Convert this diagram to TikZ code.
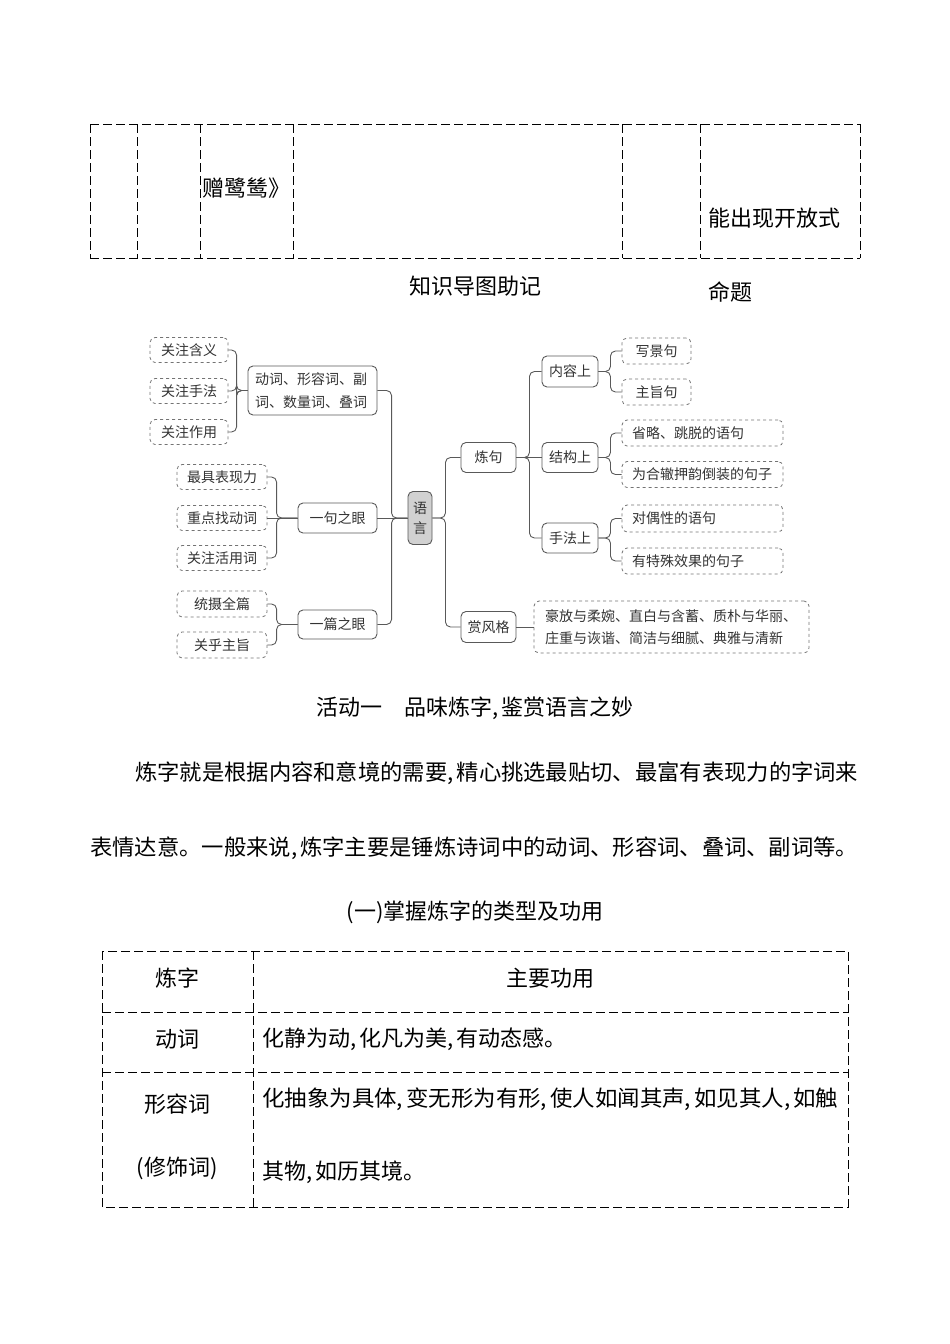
\documentclass[tikz,border=0pt]{standalone}
\usepackage{fontspec}
\setmainfont{Noto Sans CJK SC}
\newcommand\cma{,\kern3pt}
\begin{document}
\begin{tikzpicture}[x=1pt,y=-1pt,
  txt/.style={font=\fontsize{22}{26}\selectfont,inner sep=0pt},
  cell/.style={line width=.9pt,dash pattern=on 9pt off 4pt},
  mm/.style={font=\fontsize{14}{22}\selectfont,text=black!80,rounded corners=5pt,inner sep=0pt,align=center},
  topic/.style={mm,draw=black!65,line width=.9pt},
  leaf/.style={mm,draw=black!55,dashed,line width=.8pt},
  root/.style={topic,fill=black!18,font=\fontsize{14}{20}\selectfont},
  link/.style={draw=black!65,line width=.9pt,rounded corners=5pt}]
\useasboundingbox (0,0) rectangle (950,1344);
% top table
\draw[cell] (90,124) -- (860,124);
\draw[cell] (90,258) -- (860,258);
\foreach \x in {90,137,200,293,622,700,860}
  \draw[cell] (\x,124) -- (\x,258);
\node[txt,anchor=west] (poem) at (202,188) {赠鹭鸶》};
\node[txt,anchor=west] (open) at (708,218) {能出现开放式};
\node[txt,anchor=west] (mingti) at (708,292) {命题};
\node[txt] (title) at (475,286) {知识导图助记};
% mind map
\node[root,minimum width=24pt,minimum height=53pt] (yuyan) at (420,518) {语\\言};
\node[topic,minimum width=129pt,minimum height=49pt,text width=115pt,align=left,font=\fontsize{14}{23}\selectfont] (ci) at (312.5,390.5) {动词、形容词、副\\词、数量词、叠词};
\node[leaf,minimum width=78pt,minimum height=25pt] (hanyi) at (189,350) {关注含义};
\node[leaf,minimum width=78pt,minimum height=25pt] (shoufa1) at (189,391) {关注手法};
\node[leaf,minimum width=78pt,minimum height=25pt] (zuoyong) at (189,432) {关注作用};
\node[topic,minimum width=79pt,minimum height=30pt] (yiju) at (337.5,518) {一句之眼};
\node[topic,minimum width=79pt,minimum height=29pt] (yipian) at (337.5,624.5) {一篇之眼};
\node[leaf,minimum width=90pt,minimum height=25pt] (biaoxian) at (222,477) {最具表现力};
\node[leaf,minimum width=90pt,minimum height=25pt] (dongci) at (222,518) {重点找动词};
\node[leaf,minimum width=90pt,minimum height=25pt] (huoyong) at (222,558) {关注活用词};
\node[leaf,minimum width=90pt,minimum height=26pt] (quanpian) at (222,604) {统摄全篇};
\node[leaf,minimum width=90pt,minimum height=26pt] (zhuzhi1) at (222,645) {关乎主旨};
\node[topic,minimum width=55pt,minimum height=30pt] (lianju) at (488.5,457.5) {炼句};
\node[topic,minimum width=55pt,minimum height=31pt] (fengge) at (488.5,627) {赏风格};
\node[topic,minimum width=56pt,minimum height=31pt] (neirong) at (570,371.5) {内容上};
\node[topic,minimum width=56pt,minimum height=30pt] (jiegou) at (570,457.5) {结构上};
\node[topic,minimum width=56pt,minimum height=30pt] (shoufa2) at (570,538) {手法上};
\node[leaf,minimum width=69pt,minimum height=26pt] (xiejing) at (656.5,351) {写景句};
\node[leaf,minimum width=69pt,minimum height=26pt] (zhuzhi2) at (656.5,392) {主旨句};
\node[leaf,minimum width=161pt,minimum height=26pt,text width=141pt,align=left] (shenglue) at (702.5,433) {省略、跳脱的语句};
\node[leaf,minimum width=161pt,minimum height=26pt,text width=141pt,align=left] (daozhuang) at (702.5,474.5) {为合辙押韵倒装的句子};
\node[leaf,minimum width=161pt,minimum height=27pt,text width=141pt,align=left] (duiou) at (702.5,518.5) {对偶性的语句};
\node[leaf,minimum width=161pt,minimum height=26pt,text width=141pt,align=left] (teshu) at (702.5,561) {有特殊效果的句子};
\node[leaf,minimum width=275pt,minimum height=52pt,text width=253pt,align=left] (fengleaf) at (671.5,627) {豪放与柔婉、直白与含蓄、质朴与华丽、\\庄重与诙谐、简洁与细腻、典雅与清新};
\draw[link] (yuyan.west) -- ++(-16,0) |- (ci.east);
\draw[link] (yuyan.west) -- (yiju.east);
\draw[link] (yuyan.west) -- ++(-16,0) |- (yipian.east);
\draw[link] (ci.west) -- ++(-11,0) |- (hanyi.east);
\draw[link] (ci.west) -- ++(-11,0) |- (shoufa1.east);
\draw[link] (ci.west) -- ++(-11,0) |- (zuoyong.east);
\draw[link] (yiju.west) -- ++(-21,0) |- (biaoxian.east);
\draw[link] (yiju.west) -- (dongci.east);
\draw[link] (yiju.west) -- ++(-21,0) |- (huoyong.east);
\draw[link] (yipian.west) -- ++(-21,0) |- (quanpian.east);
\draw[link] (yipian.west) -- ++(-21,0) |- (zhuzhi1.east);
\draw[link] (yuyan.east) -- ++(13,0) |- (lianju.west);
\draw[link] (yuyan.east) -- ++(13,0) |- (fengge.west);
\draw[link] (lianju.east) -- ++(13,0) |- (neirong.west);
\draw[link] (lianju.east) -- (jiegou.west);
\draw[link] (lianju.east) -- ++(13,0) |- (shoufa2.west);
\draw[link] (neirong.east) -- ++(12,0) |- (xiejing.west);
\draw[link] (neirong.east) -- ++(12,0) |- (zhuzhi2.west);
\draw[link] (jiegou.east) -- ++(12,0) |- (shenglue.west);
\draw[link] (jiegou.east) -- ++(12,0) |- (daozhuang.west);
\draw[link] (shoufa2.east) -- ++(12,0) |- (duiou.west);
\draw[link] (shoufa2.east) -- ++(12,0) |- (teshu.west);
\draw[link] (fengge.east) -- (fengleaf.west);
% text
\node[txt] (act) at (475,708) {活动一　品味炼字\cma 鉴赏语言之妙};
\node[txt,anchor=west] (para1) at (135,773) {\resizebox{723pt}{\height}{炼字就是根据内容和意境的需要\cma 精心挑选最贴切、最富有表现力的字词来}};
\node[txt,anchor=west] (para2) at (90,848) {\resizebox{768pt}{\height}{表情达意。一般来说\cma 炼字主要是锤炼诗词中的动词、形容词、叠词、副词等。}};
\node[txt] (sub) at (475,912) {(一)掌握炼字的类型及功用};
% bottom table
\draw[cell] (102,951) rectangle (848,1207);
\draw[cell] (102,1012) -- (848,1012);
\draw[cell] (102,1072) -- (848,1072);
\draw[cell] (253,951) -- (253,1207);
\node[txt] (h1) at (177,978) {炼字};
\node[txt] (h2) at (550,978) {主要功用};
\node[txt] (r1) at (177,1039) {动词};
\node[txt,anchor=west] (r1t) at (262,1039) {化静为动\cma 化凡为美\cma 有动态感。};
\node[txt] (r2) at (177,1104) {形容词};
\node[txt] (r2b) at (177,1168) {(修饰词)};
\node[txt,anchor=west] (r2t) at (262,1099) {\resizebox{576pt}{\height}{化抽象为具体\cma 变无形为有形\cma 使人如闻其声\cma 如见其人\cma 如触}};
\node[txt,anchor=west] (r2u) at (262,1172) {其物\cma 如历其境。};
\end{tikzpicture}
\end{document}
